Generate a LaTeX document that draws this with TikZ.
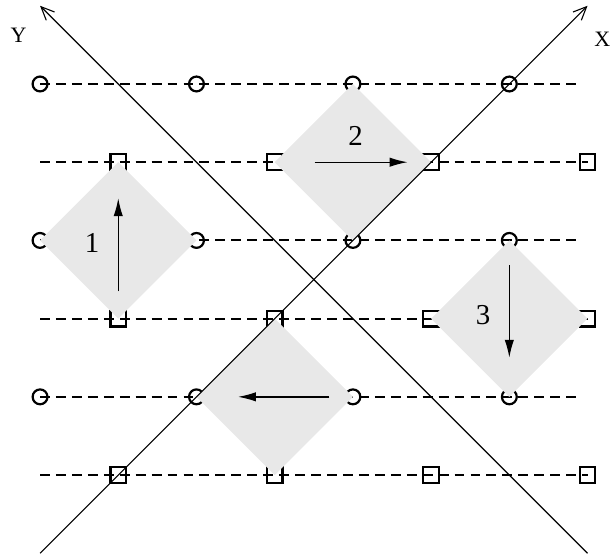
\documentclass[tikz,border=0pt]{standalone}
\usepackage{fontspec}
\setmainfont{Liberation Serif}
\usetikzlibrary{arrows.meta}
\definecolor{tilegray}{RGB}{232,232,232}

\begin{document}
\begin{tikzpicture}[
  site/.style={circle, draw, line width=0.8pt, minimum size=0.19cm, inner sep=0pt},
  cell/.style={rectangle, draw, line width=0.8pt, minimum size=0.2cm, inner sep=0pt},
  rowline/.style={line width=0.75pt, dash pattern=on 3.6pt off 2.2pt},
  tile/.style={fill=tilegray},
  hop/.style={-{Latex[length=2.3mm,width=1.2mm]}, line width=0.5pt},
  axisline/.style={-{Straight Barb[length=1.7mm,width=1.5mm]}, line width=0.4pt},
  numlabel/.style={font=\fontsize{10.5}{12}\selectfont},
  axlabel/.style={font=\fontsize{8}{9}\selectfont}
]
  \useasboundingbox (-0.512,-1.036) rectangle (7.30,6.074);
  % rows of circles
  \foreach \r in {1,3,5} {
    \foreach \c in {0,2,4,6}
      \node[site] (c\c-\r) at (\c,\r) {};
    \coordinate (ce\r) at (6.9,\r);
    \draw[rowline] (c0-\r.center) -- (ce\r);
  }
  % rows of squares
  \foreach \r in {0,2,4} {
    \foreach \c in {1,3,5,7}
      \node[cell] (s\c-\r) at (\c,\r) {};
    \coordinate (sw\r) at (0,\r);
    \draw[rowline] (sw\r) -- (s7-\r.center);
  }
  % grey tiles
  \foreach \x/\y in {1/3,4/4,6/2,3/1}
    \fill[tile] (\x,\y) +(0,1) -- +(1,0) -- +(0,-1) -- +(-1,0) -- cycle;
  % moves
  \coordinate (t1) at (1,2.35);    \coordinate (h1) at (1,3.54);
  \coordinate (t2) at (3.51,4);    \coordinate (h2) at (4.70,4);
  \coordinate (t3) at (6,2.68);    \coordinate (h3) at (6,1.50);
  \coordinate (t4) at (3.70,1);    \coordinate (h4) at (2.53,1);
  \draw[hop] (t1) -- (h1);
  \draw[hop] (t2) -- (h2);
  \draw[hop] (t3) -- (h3);
  \draw[hop] (t4) -- (h4);
  \node[numlabel] (n1) at (0.665,2.97) {1};
  \node[numlabel] (n2) at (4.035,4.34) {2};
  \node[numlabel] (n3) at (5.665,2.04) {3};
  % diagonal axes
  \coordinate (xs) at (0,-1);  \coordinate (xe) at (7,6);
  \coordinate (ys) at (7,-1);  \coordinate (ye) at (0,6);
  \draw[axisline] (xs) -- (xe);
  \draw[axisline] (ys) -- (ye);
  \node[axlabel] (xl) at (7.19,5.575) {X};
  \node[axlabel] (yl) at (-0.275,5.62) {Y};
\end{tikzpicture}
\end{document}
